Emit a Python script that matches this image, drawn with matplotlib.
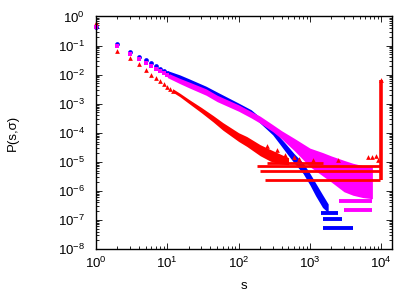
import numpy as np
import matplotlib
matplotlib.use("Agg")
import matplotlib.pyplot as plt
from matplotlib.ticker import LogLocator, NullFormatter

plt.rcParams['font.family'] = ['Liberation Sans', 'DejaVu Sans']
plt.rcParams['mathtext.default'] = 'regular'
plt.rcParams['axes.unicode_minus'] = False

# values, P given as log10
# small s: single markers
red_s = [1, 2, 3, 4, 5, 6, 7, 8, 9, 10, 11, 12]
red_logp = [-0.21, -1.17, -1.43, -1.64, -1.84, -2.03, -2.12, -2.21, -2.32, -2.41, -2.49, -2.55]
blue_s = [1, 2, 3, 4, 5, 6, 7, 8, 9, 10]
blue_logp = [-0.37, -0.94, -1.23, -1.38, -1.49, -1.61, -1.72, -1.81, -1.88, -1.94]
mag_s = [1, 2, 3, 4, 5, 6, 7, 8, 9, 10]
mag_logp = [-0.37, -1.03, -1.30, -1.46, -1.59, -1.70, -1.80, -1.88, -1.95, -2.02]

# dense part: centre of the band and its half width (decades)
red_band_s = [12, 15, 20, 30, 44, 60, 100, 130, 200, 280, 380, 500]
red_band_mid = [-2.55, -2.70, -2.92, -3.22, -3.52, -3.78, -4.15, -4.30, -4.60, -4.78, -4.90, -4.98]
red_band_hw = [0.06, 0.06, 0.07, 0.09, 0.11, 0.13, 0.15, 0.17, 0.19, 0.20, 0.17, 0.12]

blue_band_s = [10, 15, 20, 35, 50, 100, 150, 200, 300, 380, 450, 600, 800, 1000, 1200, 1500, 1800]
blue_band_mid = [-1.94, -2.09, -2.22, -2.48, -2.68, -3.06, -3.30, -3.57, -3.96, -4.28, -4.50, -4.88,
                 -5.22, -5.60, -5.95, -6.35, -6.60]
blue_band_hw = [0.08, 0.08, 0.08, 0.08, 0.08, 0.08, 0.09, 0.10, 0.11, 0.12, 0.14, 0.16, 0.18, 0.20,
                0.22, 0.22, 0.15]

mag_band_s = [10, 15, 20, 35, 50, 100, 150, 200, 300, 400, 600, 1000, 1500, 2000, 3000, 4000, 5500, 7500]
mag_band_mid = [-2.02, -2.22, -2.35, -2.60, -2.82, -3.15, -3.38, -3.55, -3.84, -4.07, -4.40, -4.85,
                -5.08, -5.25, -5.49, -5.60, -5.68, -5.72]
mag_band_hw = [0.08, 0.09, 0.10, 0.11, 0.11, 0.11, 0.11, 0.12, 0.12, 0.14, 0.21, 0.32, 0.40, 0.45,
               0.54, 0.55, 0.55, 0.55]

# tails: rows of single counts (level, first s, last s)
red_rows_logp = [-5.63, -5.33, -5.15, -5.03]
red_rows_start = [235, 200, 180, 250]
red_rows_end = [9600, 9600, 9600, 1500]
blue_rows_logp = [-6.76, -6.97, -7.26]
blue_rows_start = [1450, 1540, 1540]
blue_rows_end = [2500, 2800, 4000]
mag_rows_logp = [-6.36, -6.67]
mag_rows_start = [2550, 3000]
mag_rows_end = [7500, 7500]

# loose red points and the spike at s ~ 1e4
red_extra_s = [250, 350, 450, 600, 700, 1100, 2500, 6500, 7500, 8500, 9000]
red_extra_logp = [-4.45, -4.60, -4.75, -4.85, -4.90, -4.95, -4.95, -4.85, -4.85, -4.80, -4.95]
spike_s = 9800
spike_logp = [-5.63, -2.18]

RED, BLUE, MAG = '#ff0000', '#0000ff', '#ff00ff'


def p(v):
    return 10.0 ** np.asarray(v)


fig = plt.figure(figsize=(4.15, 2.91), dpi=100)
ax = fig.add_axes([0.2313, 0.1443, 0.7126, 0.7990])
ax.set_xscale('log')
ax.set_yscale('log')

series = [
    (RED, '^', 3.4, red_s, red_logp, red_band_s, red_band_mid, red_band_hw,
     red_rows_logp, red_rows_start, red_rows_end, 2.0),
    (BLUE, 'o', 3.4, blue_s, blue_logp, blue_band_s, blue_band_mid, blue_band_hw,
     blue_rows_logp, blue_rows_start, blue_rows_end, 2.8),
    (MAG, 's', 3.2, mag_s, mag_logp, mag_band_s, mag_band_mid, mag_band_hw,
     mag_rows_logp, mag_rows_start, mag_rows_end, 2.8),
]

for color, marker, ms, s, lp, bs, bm, bh, rl, r0, r1, rlw in series:
    bm = np.array(bm)
    bh = np.array(bh)
    ax.fill_between(bs, p(bm - bh), p(bm + bh), color=color, lw=0)
    ax.hlines(p(rl), r0, r1, color=color, lw=rlw)
    ax.plot(s, p(lp), ls='none', marker=marker, ms=ms, color=color, mew=0, clip_on=False)
    if color == RED:
        ax.plot(red_extra_s, p(red_extra_logp), ls='none', marker='^', ms=ms, color=RED, mew=0)
        ax.vlines(spike_s, *p(spike_logp), color=RED, lw=2.6)
        ax.plot([spike_s], [p(spike_logp[1])], marker='^', ms=ms, color=RED, mew=0)

ax.set_xlim(1, 14000)
ax.set_ylim(1e-8, 1)

ax.xaxis.set_major_locator(LogLocator(base=10, numticks=10))
ax.xaxis.set_minor_locator(LogLocator(base=10, subs=np.arange(2, 10), numticks=20))
ax.yaxis.set_major_locator(LogLocator(base=10, numticks=12))
ax.yaxis.set_minor_locator(LogLocator(base=10, subs=np.arange(2, 10), numticks=20))
ax.xaxis.set_minor_formatter(NullFormatter())
ax.yaxis.set_minor_formatter(NullFormatter())

ax.tick_params(which='both', direction='in', top=True, right=True, labelsize=9.5, width=0.6)
ax.tick_params(which='major', length=4)
ax.tick_params(which='minor', length=2)
ax.tick_params(axis='x', pad=5)
ax.tick_params(axis='y', pad=8)
for sp in ax.spines.values():
    sp.set_linewidth(1.0)

ax.set_xlabel('s', fontsize=9.5)
ax.set_ylabel('P(s,σ)', fontsize=9.5)
ax.xaxis.set_label_coords(0.5, -0.135)
ax.yaxis.set_label_coords(-0.26, 0.5)

fig.savefig('out.png', dpi=100)
